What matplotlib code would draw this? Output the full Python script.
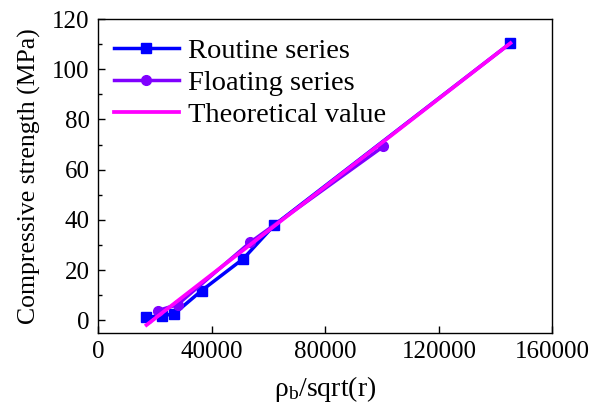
import matplotlib
matplotlib.use('Agg')
import matplotlib.pyplot as plt
from matplotlib.ticker import MultipleLocator

# Routine series
routine_x = [16800, 22600, 26900, 36500, 51200, 62100, 145200]
routine_y = [1.3, 1.8, 2.7, 11.9, 24.6, 38.0, 110.4]

# Floating series
floating_x = [21000, 28000, 53600, 100500]
floating_y = [3.9, 6.3, 31.1, 69.3]

# Theoretical value (straight line end points)
theory_x = [17100, 145200]
theory_y = [-1.8, 110.4]

plt.rcParams['font.family'] = ['Liberation Serif', 'DejaVu Serif']
plt.rcParams['mathtext.fontset'] = 'custom'
plt.rcParams['mathtext.rm'] = 'Liberation Serif'
plt.rcParams['mathtext.it'] = 'Liberation Serif:italic'

fig = plt.figure(figsize=(5.96, 4.15), dpi=100)
ax = fig.add_axes([0.1644, 0.1976, 0.7626, 0.7566])

ax.plot(routine_x, routine_y, color='#0000FF', lw=2.5, marker='s', ms=7,
        label='Routine series')
ax.plot(floating_x, floating_y, color='#8000FF', lw=2.5, marker='o', ms=7,
        label='Floating series')
ax.plot(theory_x, theory_y, color='#FF00FF', lw=2.7, label='Theoretical value')

ax.set_xlim(0, 160000)
ax.set_ylim(-5, 120)
ax.xaxis.set_major_locator(MultipleLocator(40000))
ax.yaxis.set_major_locator(MultipleLocator(20))
ax.yaxis.set_minor_locator(MultipleLocator(10))
ax.tick_params(direction='in', length=5, width=1, labelsize=18, pad=6)
ax.tick_params(which='minor', direction='in', length=3, width=1)
for s in ax.spines.values():
    s.set_linewidth(1)

ax.set_xlabel(r'ρ$_\mathrm{b}$/sqrt(r)', fontsize=20, labelpad=8)
ax.set_ylabel('Compressive strength (MPa)', fontsize=18.5, labelpad=8)

ax.legend(loc='upper left', bbox_to_anchor=(0, 0.99), frameon=False,
          fontsize=20.5, handlelength=2.3, borderaxespad=0.25, borderpad=0.3,
          labelspacing=0.22, handletextpad=0.3)

fig.savefig('out.png', dpi=100)
